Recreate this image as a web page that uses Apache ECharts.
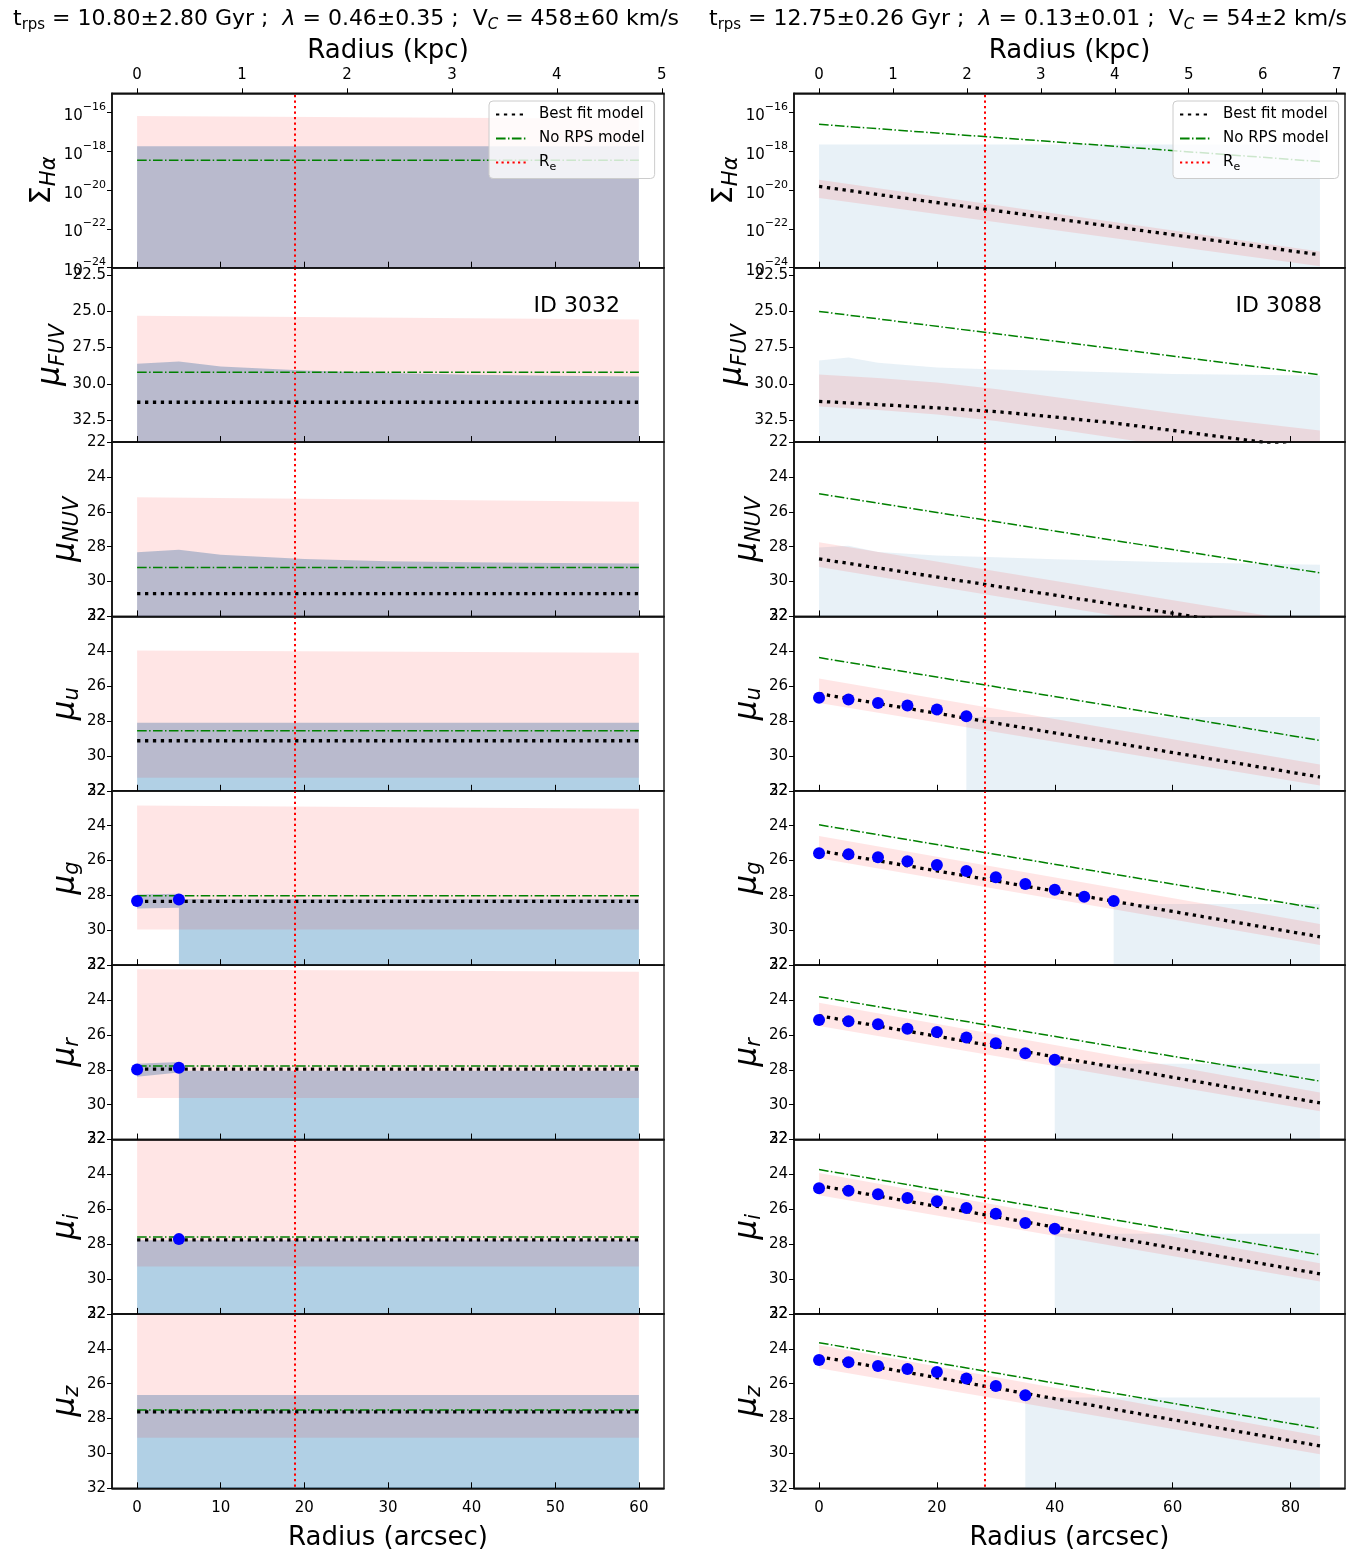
<!DOCTYPE html>
<html><head><meta charset="utf-8">
<script src="https://cdn.jsdelivr.net/npm/echarts@6/dist/echarts.min.js"></script>
<style>html,body{margin:0;padding:0;background:#fff}#c{width:1364px;height:1553px}</style>
</head><body><div id="c"></div>
<script>
// ---------------- DATA ----------------
const BAND_NAMES = ['Hα','FUV','NUV','u','g','r','i','z'];
const KPC_PER_ARCSEC = 0.0797;
const RE_ARCSEC = [18.85, 28.1];
const GALAXY_IDS = ['ID 3032', 'ID 3088'];
const TITLES = [
  't{sub|rps} = 10.80±2.80 Gyr ;  {it|λ} = 0.46±0.35 ;  V{subit|C} = 458±60 km/s',
  't{sub|rps} = 12.75±0.26 Gyr ;  {it|λ} = 0.13±0.01 ;  V{subit|C} = 54±2 km/s'
];
const ARCSEC_TICKS_L = [0,10,20,30,40,50,60];
const ARCSEC_TICKS_R = [0,20,40,60,80];
const KPC_TICKS_L = [0,1,2,3,4,5];
const KPC_TICKS_R = [0,1,2,3,4,5,6,7];
const HA_TICKS = [1e-24,1e-22,1e-20,1e-18,1e-16];
const FUV_TICKS = [22.5,25.0,27.5,30.0,32.5];

// Left galaxy (ID 3032): profiles are flat
const L_EDGE = [0, 60];
const L_BEST   = [null, 31.26, 30.69, 29.13, 28.34, 27.96, 27.75, 27.62];
const L_NORPS  = [3.5e-19, 29.19, 29.20, 28.55, 28.02, 27.78, 27.59, 27.51];
const L_BAND_UP_IN  = [6.8e-17, 25.30, 25.16, 23.95, 22.84, 22.23, 21.6, 21.6];
const L_BAND_UP_OUT = [4.9e-17, 25.57, 25.42, 24.09, 23.03, 22.38, 21.6, 21.6];
const L_BAND_LOW    = [1e-26, 35.0, 33.0, 31.25, 29.95, 29.62, 29.28, 29.10];
const L_LIM_RADII = [0, 5, 10, 20, 30, 40, 50, 60];
const L_HA_LIMIT = 1.85e-18;
const L_FUV_LIMIT = [28.61, 28.45, 28.80, 29.07, 29.25, 29.37, 29.44, 29.49];
const L_NUV_LIMIT = [28.32, 28.17, 28.46, 28.71, 28.84, 28.90, 28.93, 28.97];
const L_OPT_LIMIT = [28.10, 28.20, 28.05, 27.78, 26.65];   // u g r i z
const L_OPT_LIMIT_FROM = [0, 5, 5, 0, 0];
const L_DET_RADII = [0, 5];
const L_G_ERR_UP = [27.95, 27.90], L_G_ERR_LOW = [28.75, 28.70];
const L_R_ERR_UP = [27.65, 27.55], L_R_ERR_LOW = [28.40, 28.15];
const L_G_DOTS = [28.32, 28.24];
const L_R_DOTS = [27.98, 27.88];
const L_I_DOT_RADII = [5];
const L_I_DOTS = [27.71];

// Right galaxy (ID 3088): values at r = 0 and r = 85 arcsec
const R_EDGE = [0, 85];
const R_NORPS = [[2.5e-17,3.0e-19],[25.01,29.37],[24.97,29.50],[24.36,29.11],[23.95,28.76],[23.81,28.65],[23.72,28.61],[23.65,28.57]];
const R_BEST  = [[1.55e-20,4.6e-24],null,[28.70,33.12],[26.43,31.21],[25.43,30.37],[24.90,29.90],[24.64,29.70],[24.45,29.57]];
const R_BAND_UP  = [[3.5e-20,6.8e-24],null,[27.75,32.45],[25.56,30.49],[24.59,29.64],[24.15,29.30],[23.92,29.09],[23.78,29.00]];
const R_BAND_LOW = [[4.0e-21,1.2e-24],null,[29.16,33.90],[26.96,31.69],[25.87,30.85],[25.49,30.38],[25.20,30.14],[25.12,30.05]];
const R_FUV_RADII = [0,10,20,30,40,50,60,70,85];
const R_FUV_BEST = [31.20,31.42,31.65,31.90,32.28,32.69,33.20,33.73,34.50];
const R_FUV_BAND_UP  = [29.35,29.60,29.90,30.35,30.90,31.45,32.00,32.50,33.20];
const R_FUV_BAND_LOW = [31.55,31.80,32.10,32.55,33.10,33.70,34.30,34.90,35.60];
const R_HA_LIMIT = 2.3e-18;
const R_LIM_RADII = [0,5,10,20,30,40,60,85];
const R_FUV_LIMIT = [28.38,28.18,28.55,28.87,29.00,29.10,29.32,29.42];
const R_NUV_LIMIT = [28.05,27.95,28.30,28.50,28.60,28.72,28.90,29.04];
const R_OPT_LIMIT = [27.77, 28.49, 27.66, 27.40, 26.79];
const R_OPT_LIMIT_FROM = [25, 50, 40, 40, 35];
const R_DOT_RADII = [0,5,10,15,20,25,30,35,40,45,50];
const R_U_DOTS = [26.67,26.77,26.96,27.11,27.34,27.72];
const R_G_DOTS = [25.58,25.64,25.81,26.04,26.25,26.60,26.96,27.34,27.67,28.07,28.32];
const R_R_DOTS = [25.14,25.22,25.39,25.64,25.83,26.15,26.48,27.05,27.43];
const R_I_DOTS = [24.79,24.93,25.14,25.35,25.54,25.93,26.25,26.79,27.11];
const R_Z_DOTS = [24.64,24.77,24.98,25.16,25.33,25.70,26.14,26.66];

// ---------------- LAYOUT ----------------
const FONT = 'DejaVu Sans';
const ROW_TOP0 = 93.3, ROW_H = 174.375;
const COLS = [
  {left:112, width:552, xmin:-3, xmax:63, ticks:ARCSEC_TICKS_L, kticks:KPC_TICKS_L, blue:'rgba(31,119,180,0.35)'},
  {left:794, width:551, xmin:-4.25, xmax:89.25, ticks:ARCSEC_TICKS_R, kticks:KPC_TICKS_R, blue:'rgba(31,119,180,0.10)'}
];
const PINK = 'rgba(255,0,0,0.10)';
const FAINT_HA = 1e-26, FAINT_MAG = 36;
const SPINE = {color:'#111', width:1.6};

const yv = (row, v) => row === 0 ? Math.log10(v) : v;
const zip = (xs, ys) => xs.map((x, i) => [x, ys[i]]);
const flat = (xs, v) => xs.map(x => [x, v]);

const grids = [], xAxes = [], yAxes = [], series = [];

function poly(gi, row, upper, lower, fill, z) {
  const up = upper.map(p => [p[0], yv(row, p[1])]);
  const lo = lower.map(p => [p[0], yv(row, p[1])]);
  return {type:'custom', xAxisIndex:gi, yAxisIndex:gi, z, silent:true, animation:false,
    data:[[up[0][0], up[0][1]]],
    renderItem:(params, api) => {
      const pts = up.concat(lo.slice().reverse()).map(p => api.coord(p));
      const cs = params.coordSys;
      return {type:'polygon', shape:{points:pts}, style:{fill:fill},
        clipPath:{type:'rect', shape:{x:cs.x, y:cs.y, width:cs.width, height:cs.height}}};
    }};
}
function line(gi, row, name, pts, style, z) {
  return {type:'line', name, xAxisIndex:gi, yAxisIndex:gi, symbol:'none', z, silent:true, animation:false,
    clip:true, data:pts.map(p => [p[0], yv(row, p[1])]), lineStyle:style, itemStyle:{color:style.color}};
}
function dots(gi, row, pts) {
  return {type:'scatter', name:'data', xAxisIndex:gi, yAxisIndex:gi, z:5, silent:true, animation:false,
    symbolSize:12, itemStyle:{color:'#0000ff', opacity:1}, data:pts.map(p => [p[0], yv(row, p[1])])};
}
const BEST_STYLE = {color:'#000', width:3.3, type:[3.3,4.6], cap:'butt'};
const NORPS_STYLE = {color:'#008000', width:1.5, type:[9.6,2.4,1.5,2.4], cap:'butt'};
const RE_STYLE = {color:'#ff0000', width:2, type:[2.2,3.3], cap:'butt'};

const nameRich = {
  m:{fontSize:31, fontStyle:'italic', fontFamily:FONT, color:'#000'},
  M:{fontSize:29, fontFamily:FONT, color:'#000'},
  s:{fontSize:21, fontStyle:'italic', fontFamily:FONT, color:'#000', verticalAlign:'top', padding:[14,0,0,0]}
};
const yNames = ['{M|Σ}{s|Hα}','{m|μ}{s|FUV}','{m|μ}{s|NUV}','{m|μ}{s|u}','{m|μ}{s|g}','{m|μ}{s|r}','{m|μ}{s|i}','{m|μ}{s|z}'];

for (let c = 0; c < 2; c++) {
  const C = COLS[c];
  for (let r = 0; r < 8; r++) {
    const gi = c*8 + r;
    grids.push({left:C.left, width:C.width, top:ROW_TOP0 + r*ROW_H, height:ROW_H,
      show:true, borderColor:'#111', borderWidth:1.4, backgroundColor:'transparent'});
    xAxes.push({type:'value', gridIndex:gi, min:C.xmin, max:C.xmax, position:'bottom', z:10,
      axisLine:{show:true, onZero:false, lineStyle:SPINE},
      axisTick:{show:true, inside:true, length:6, customValues:C.ticks, lineStyle:{color:'#000', width:1}},
      axisLabel:{show:r===7, customValues:C.ticks, fontSize:15, color:'#000', margin:12, fontFamily:FONT},
      splitLine:{show:false},
      name:r===7 ? 'Radius (arcsec)' : '', nameLocation:'middle', nameGap:37,
      nameTextStyle:{fontSize:26, color:'#000', fontFamily:FONT}});
    let y;
    if (r === 0) {
      y = {min:-24, max:-15, inverse:false,
        axisLabel:{customValues:HA_TICKS.map(v => Math.log10(v)),
          formatter:v => '{b|10}{s|−' + Math.round(-v) + '}',
          rich:{b:{fontSize:15, fontFamily:FONT, color:'#000', padding:[7,0,0,0], verticalAlign:'bottom'},
                s:{fontSize:11, fontFamily:FONT, color:'#000', verticalAlign:'top'}}},
        axisTick:{customValues:HA_TICKS.map(v => Math.log10(v))}, nameGap:50};
    } else if (r === 1) {
      y = {min:22, max:34, inverse:true,
        axisLabel:{customValues:FUV_TICKS, formatter:v => v.toFixed(1)},
        axisTick:{customValues:FUV_TICKS}, nameGap:40};
    } else {
      y = {min:22, max:32, interval:2, inverse:true, axisLabel:{}, axisTick:{}, nameGap:28};
    }
    yAxes.push({type:'value', gridIndex:gi, min:y.min, max:y.max, interval:y.interval, inverse:y.inverse, z:10,
      axisLine:{show:true, onZero:false, lineStyle:SPINE},
      axisTick:Object.assign({show:true, inside:false, length:5, lineStyle:{color:'#000'}}, y.axisTick),
      axisLabel:Object.assign({fontSize:15, color:'#000', margin:6, fontFamily:FONT, showMinLabel:true, showMaxLabel:true}, y.axisLabel),
      splitLine:{show:false},
      name:yNames[r], nameLocation:'middle', nameRotate:90, nameGap:y.nameGap,
      nameTextStyle:{rich:nameRich}});
  }
}
// top kpc axes
for (let c = 0; c < 2; c++) {
  const C = COLS[c];
  xAxes.push({type:'value', gridIndex:c*8, position:'top', min:C.xmin*KPC_PER_ARCSEC, max:C.xmax*KPC_PER_ARCSEC, z:10,
    axisLine:{show:true, onZero:false, lineStyle:SPINE},
    axisTick:{show:true, inside:false, length:5, customValues:C.kticks, lineStyle:{color:'#000'}},
    axisLabel:{customValues:C.kticks, fontSize:15, color:'#000', margin:11, fontFamily:FONT},
    splitLine:{show:false},
    name:'Radius (kpc)', nameLocation:'middle', nameGap:29, nameTextStyle:{fontSize:26, color:'#000', fontFamily:FONT}});
}

// ----- series: left galaxy -----
for (let r = 0; r < 8; r++) {
  const gi = r, blue = COLS[0].blue, faint = r === 0 ? FAINT_HA : FAINT_MAG;
  if (r === 0) series.push(poly(gi, r, flat(L_EDGE, L_HA_LIMIT), flat(L_EDGE, faint), blue, 1));
  else if (r === 1) series.push(poly(gi, r, zip(L_LIM_RADII, L_FUV_LIMIT), flat(L_LIM_RADII, faint), blue, 1));
  else if (r === 2) series.push(poly(gi, r, zip(L_LIM_RADII, L_NUV_LIMIT), flat(L_LIM_RADII, faint), blue, 1));
  else {
    const k = r - 3, xs = [L_OPT_LIMIT_FROM[k], L_EDGE[1]];
    series.push(poly(gi, r, flat(xs, L_OPT_LIMIT[k]), flat(xs, faint), blue, 1));
  }
  if (r === 4) series.push(poly(gi, r, zip(L_DET_RADII, L_G_ERR_UP), zip(L_DET_RADII, L_G_ERR_LOW), blue, 1));
  if (r === 5) series.push(poly(gi, r, zip(L_DET_RADII, L_R_ERR_UP), zip(L_DET_RADII, L_R_ERR_LOW), blue, 1));
  series.push(poly(gi, r, [[L_EDGE[0], L_BAND_UP_IN[r]], [L_EDGE[1], L_BAND_UP_OUT[r]]], flat(L_EDGE, L_BAND_LOW[r]), PINK, 2));
  series.push(line(gi, r, 'No RPS model', flat(L_EDGE, L_NORPS[r]), NORPS_STYLE, 3));
  series.push(line(gi, r, 'Best fit model', L_BEST[r] === null ? [] : flat(L_EDGE, L_BEST[r]), BEST_STYLE, 4));
  if (r === 4) series.push(dots(gi, r, zip(L_DET_RADII, L_G_DOTS)));
  if (r === 5) series.push(dots(gi, r, zip(L_DET_RADII, L_R_DOTS)));
  if (r === 6) series.push(dots(gi, r, zip(L_I_DOT_RADII, L_I_DOTS)));
  series.push({type:'line', name:'Re', xAxisIndex:gi, yAxisIndex:gi, data:[], symbol:'none', z:6, silent:true, animation:false,
    lineStyle:RE_STYLE, itemStyle:{color:'#ff0000'},
    markLine:{silent:true, symbol:'none', animation:false, label:{show:false}, lineStyle:RE_STYLE, data:[{xAxis:RE_ARCSEC[0]}]}});
}
// ----- series: right galaxy -----
const R_DOTS = [R_U_DOTS, R_G_DOTS, R_R_DOTS, R_I_DOTS, R_Z_DOTS];
for (let r = 0; r < 8; r++) {
  const gi = 8 + r, blue = COLS[1].blue, faint = r === 0 ? FAINT_HA : FAINT_MAG;
  if (r === 0) series.push(poly(gi, r, flat(R_EDGE, R_HA_LIMIT), flat(R_EDGE, faint), blue, 1));
  else if (r === 1) series.push(poly(gi, r, zip(R_LIM_RADII, R_FUV_LIMIT), flat(R_LIM_RADII, faint), blue, 1));
  else if (r === 2) series.push(poly(gi, r, zip(R_LIM_RADII, R_NUV_LIMIT), flat(R_LIM_RADII, faint), blue, 1));
  else {
    const k = r - 3, xs = [R_OPT_LIMIT_FROM[k], R_EDGE[1]];
    series.push(poly(gi, r, flat(xs, R_OPT_LIMIT[k]), flat(xs, faint), blue, 1));
  }
  if (r === 1) {
    series.push(poly(gi, r, zip(R_FUV_RADII, R_FUV_BAND_UP), zip(R_FUV_RADII, R_FUV_BAND_LOW), PINK, 2));
    series.push(line(gi, r, 'No RPS model', zip(R_EDGE, R_NORPS[r]), NORPS_STYLE, 3));
    series.push(line(gi, r, 'Best fit model', zip(R_FUV_RADII, R_FUV_BEST), BEST_STYLE, 4));
  } else {
    series.push(poly(gi, r, zip(R_EDGE, R_BAND_UP[r]), zip(R_EDGE, R_BAND_LOW[r]), PINK, 2));
    series.push(line(gi, r, 'No RPS model', zip(R_EDGE, R_NORPS[r]), NORPS_STYLE, 3));
    series.push(line(gi, r, 'Best fit model', zip(R_EDGE, R_BEST[r]), BEST_STYLE, 4));
  }
  if (r >= 3) {
    const d = R_DOTS[r - 3];
    series.push(dots(gi, r, zip(R_DOT_RADII.slice(0, d.length), d)));
  }
  series.push({type:'line', name:'Re', xAxisIndex:gi, yAxisIndex:gi, data:[], symbol:'none', z:6, silent:true, animation:false,
    lineStyle:RE_STYLE, itemStyle:{color:'#ff0000'},
    markLine:{silent:true, symbol:'none', animation:false, label:{show:false}, lineStyle:RE_STYLE, data:[{xAxis:RE_ARCSEC[1]}]}});
}

const legendBase = {
  orient:'vertical', selectedMode:false, data:['Best fit model','No RPS model','Re'],
  itemWidth:30, itemHeight:12, itemGap:9, padding:[6,10,6,6],
  backgroundColor:'rgba(255,255,255,0.8)', borderColor:'#cccccc', borderWidth:1, borderRadius:4,
  itemStyle:{color:'rgba(0,0,0,0)', borderColor:'rgba(0,0,0,0)', borderWidth:0, opacity:0},
  formatter:n => n === 'Re' ? 'R{sub|e}' : n,
  textStyle:{fontSize:15, color:'#000', fontFamily:FONT, padding:[0,0,0,8],
    rich:{sub:{fontSize:11, color:'#000', fontFamily:FONT, verticalAlign:'top', padding:[9,0,0,0]}}}
};

const option = {
  animation:false,
  backgroundColor:'#fff',
  textStyle:{fontFamily:FONT},
  title:TITLES.map((t, i) => ({text:t, left:i === 0 ? 8 : 704, top:1,
    textStyle:{fontSize:22, fontWeight:'normal', color:'#000', fontFamily:FONT,
      rich:{sub:{fontSize:15, color:'#000', fontFamily:FONT, verticalAlign:'top', padding:[12,0,0,0]},
            subit:{fontSize:15, fontStyle:'italic', color:'#000', fontFamily:FONT, verticalAlign:'top', padding:[12,0,0,0]},
            it:{fontSize:22, fontStyle:'italic', color:'#000', fontFamily:FONT}}}})),
  legend:[Object.assign({left:489, top:101}, legendBase), Object.assign({left:1173, top:101}, legendBase)],
  grid:grids, xAxis:xAxes, yAxis:yAxes, series:series,
  graphic:GALAXY_IDS.map((t, i) => ({type:'text', right:i === 0 ? 1364 - 620 : 1364 - 1322, top:295, z:20,
    style:{text:t, font:'22px "DejaVu Sans"', fill:'#000'}}))
};
const chart = echarts.init(document.getElementById('c'), null, {renderer:'canvas'});
chart.setOption(option);
</script></body></html>
